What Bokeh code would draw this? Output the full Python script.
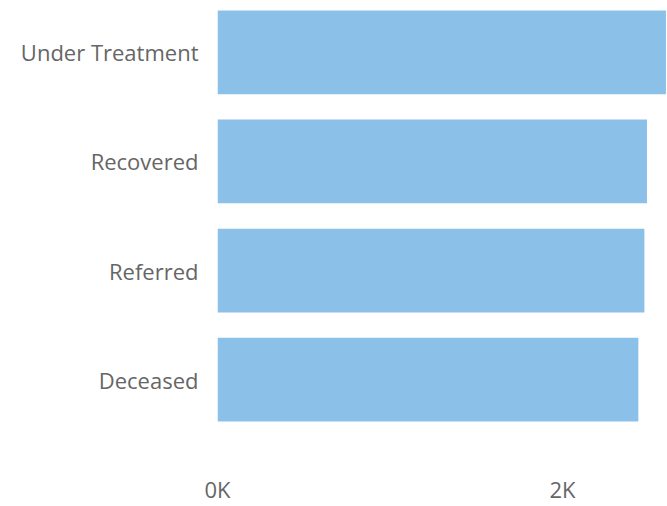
from bokeh.plotting import figure
from bokeh.models import FactorRange, Range1d, FixedTicker, ColumnDataSource
from bokeh.embed import file_html
from bokeh.resources import INLINE

categories = ["Under Treatment", "Recovered", "Referred", "Deceased"]
counts = [2600, 2490, 2475, 2440]
tick_values = [0, 2000]
tick_labels = ["0K", "2K"]

src = ColumnDataSource(data=dict(cat=categories, val=counts))

p = figure(
    width=667, height=506,
    y_range=FactorRange(factors=categories[::-1], range_padding=-0.0976,
                        range_padding_units="absolute"),
    x_range=Range1d(0, 2609),
    output_backend="svg", toolbar_location=None,
    min_border_left=217, min_border_right=0, min_border_top=8,
    min_border_bottom=82,
)
p.hbar(y="cat", right="val", left=0, height=0.768, source=src,
       fill_color="#8BC1E8", line_color=None)

p.outline_line_color = None
p.grid.grid_line_color = None
for ax in (p.xaxis, p.yaxis):
    ax.axis_line_color = None
    ax.major_tick_line_color = None
    ax.minor_tick_line_color = None
    ax.major_tick_out = 0
    ax.major_tick_in = 0
    ax.major_label_text_font = "Open Sans"
    ax.major_label_text_font_size = "22px"
    ax.major_label_text_color = "#666666"

p.yaxis.major_label_standoff = 19
p.xaxis.ticker = FixedTicker(ticks=tick_values)
p.xaxis.major_label_overrides = {v: l for v, l in zip(tick_values, tick_labels)}
p.xaxis.major_label_standoff = 50

open("out.html", "w").write(file_html(p, INLINE))
